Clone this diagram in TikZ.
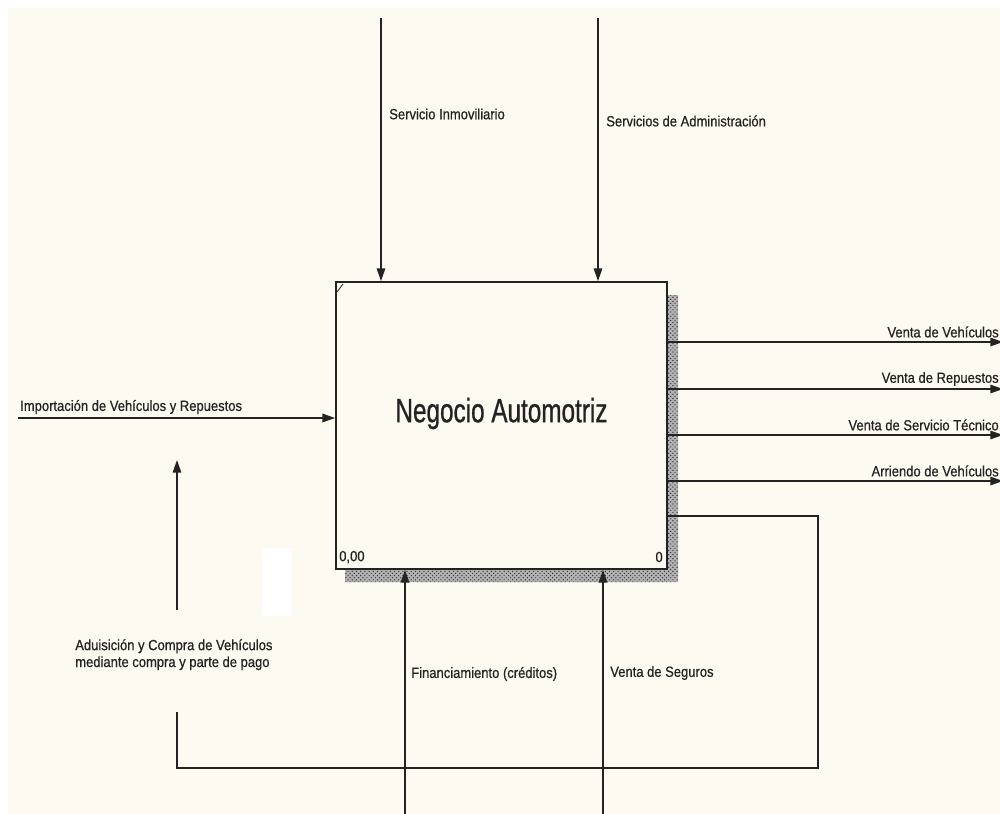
\documentclass[tikz,border=0pt]{standalone}
\usepackage{fontspec}
\setmainfont[FakeStretch=0.88,FakeBold=0.6]{Liberation Sans}
\newfontfamily\titlefont[FakeStretch=0.72,FakeBold=0.8]{Liberation Sans}
\usetikzlibrary{arrows.meta}
\usetikzlibrary{patterns}
\usetikzlibrary{positioning}

\definecolor{cream}{RGB}{253,250,241}
\definecolor{ink}{RGB}{35,35,35}

\begin{document}
\begin{tikzpicture}[x=0.025cm, y=-0.025cm]
      \tikzset{
        >={Triangle[length=9pt,width=6pt]},
        flow/.style={draw=ink, line width=1.1pt},
        lbl/.style={inner sep=0pt, font=\fontsize{10.5}{12}\selectfont, text=ink},
        activity/.style={draw=ink, line width=1.2pt, fill=cream,
          minimum width=8.275cm, minimum height=7.175cm, inner sep=0pt},
        hatch/.style={pattern=crosshatch dots, pattern color=black!80},
      }
      \useasboundingbox (0,0) rectangle (1000,814);
      \fill[white] (0,0) rectangle (1000,814);
      \fill[cream] (8,8) rectangle (1000,814);
      \fill[white] (262,548) rectangle (292,616);

      % shadow and activity box
      \fill[gray!60] (667,295) rectangle (678,582) (345,569) rectangle (678,582);
      \fill[hatch] (667,295) rectangle (678,582) (345,569) rectangle (678,582);
      \node[activity] (box) at (501.5,425.5) {};
      \node[inner sep=0pt, font=\titlefont\fontsize{24}{28}\selectfont, text=ink]
        (title) at ([yshift=0.3cm]box.center) {Negocio Automotriz};
      \draw[ink, line width=0.6pt] (337,292) -- (343,284);
      \node[lbl, anchor=west] (num) at (339,557) {0,00};
      \node[lbl, anchor=east] (cost) at (663,557) {0};

      % controls
      \coordinate (ctl1) at (381,18);
      \coordinate (ctl2) at (598,18);
      \draw[flow, ->] (ctl1) -- (ctl1 |- box.north);
      \draw[flow, ->] (ctl2) -- (ctl2 |- box.north);
      \node[lbl, anchor=west] (ctl1lbl) at (389,114) {Servicio Inmoviliario};
      \node[lbl, anchor=west] (ctl2lbl) at (606,121) {Servicios de Administración};

      % input
      \coordinate (in1) at (18,418);
      \draw[flow, ->] (in1) -- (in1 -| box.west);
      \node[lbl, anchor=west] (in1lbl) at (20,407) {Importación de Vehículos y Repuestos};

      % outputs
      \foreach \y/\t/\n in {342/Venta de Vehículos/o1, 389/Venta de Repuestos/o2,
                            435/Venta de Servicio Técnico/o3, 481/Arriendo de Vehículos/o4} {
        \coordinate (\n) at (1003,\y);
        \draw[flow, ->] (\n -| box.east) -- (\n);
        \node[lbl, anchor=east] at (999,\y-10) {\t};
      }

      % mechanisms
      \coordinate (mec1) at (405,816);
      \coordinate (mec2) at (603,816);
      \draw[flow, ->] (mec1) -- (mec1 |- box.south);
      \draw[flow, ->] (mec2) -- (mec2 |- box.south);
      \node[lbl, anchor=west] (mec1lbl) at (411,674) {Financiamiento (créditos)};
      \node[lbl, anchor=west] (mec2lbl) at (610,673) {Venta de Seguros};

      % feedback loop
      \coordinate (fbout) at (box.east |- 0,516);
      \coordinate (fbcorner) at (818,768);
      \coordinate (fbend) at (177,712);
      \coordinate (fbstart) at (177,610);
      \coordinate (fbtip) at (177,460);
      \draw[flow] (fbout) -| (fbcorner) -| (fbend);
      \draw[flow, ->] (fbstart) -- (fbtip);
      \node[lbl, anchor=north west, align=left] (fblbl) at (75,639)
        {Aduisición y Compra de Vehículos\\mediante compra y parte de pago};
    \end{tikzpicture}
\end{document}
